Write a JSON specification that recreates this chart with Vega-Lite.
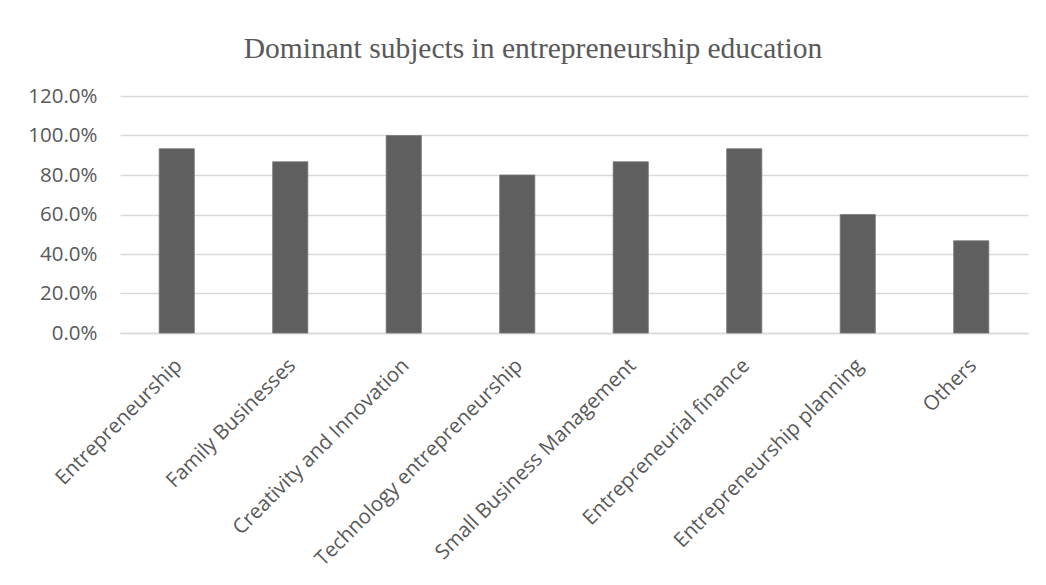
{
  "$schema": "https://vega.github.io/schema/vega-lite/v6.json",
  "width": 908,
  "height": 237,
  "autosize": {"type": "none"},
  "padding": {"left": 120, "top": 96, "right": 18, "bottom": 252},
  "background": "white",
  "title": {
    "text": "Dominant subjects in entrepreneurship education",
    "font": "Liberation Serif",
    "fontSize": 29.5,
    "fontWeight": "normal",
    "color": "#595959",
    "anchor": "middle",
    "frame": "group",
    "dx": -41,
    "offset": 22
  },
  "data": {
    "values": [
      {"subject": "Entrepreneurship", "share": 0.933},
      {"subject": "Family Businesses", "share": 0.867},
      {"subject": "Creativity and Innovation", "share": 1.0},
      {"subject": "Technology entrepreneurship", "share": 0.8},
      {"subject": "Small Business Management", "share": 0.867},
      {"subject": "Entrepreneurial finance", "share": 0.933},
      {"subject": "Entrepreneurship planning", "share": 0.6},
      {"subject": "Others", "share": 0.467}
    ]
  },
  "mark": {"type": "bar", "color": "#5f5f5f", "stroke": "#7a7a7a", "strokeWidth": 0.8},
  "encoding": {
    "x": {
      "field": "subject",
      "type": "nominal",
      "sort": null,
      "title": null,
      "scale": {"paddingInner": 0.69, "paddingOuter": 0.345},
      "axis": {
        "labelAngle": -45,
        "labelFont": "Open Sans",
        "labelFontSize": 20.5,
        "labelColor": "#595959",
        "ticks": false,
        "domainColor": "#d9d9d9",
        "domainWidth": 1.5,
        "labelPadding": 22,
        "labelOffset": -5,
        "labelLimit": 400
      }
    },
    "y": {
      "field": "share",
      "type": "quantitative",
      "title": null,
      "scale": {"domain": [0, 1.2], "nice": false},
      "axis": {
        "values": [0, 0.2, 0.4, 0.6, 0.8, 1.0, 1.2],
        "format": ".1%",
        "labelFont": "Open Sans",
        "labelFontSize": 20.5,
        "labelColor": "#595959",
        "ticks": false,
        "domain": false,
        "gridColor": "#d9d9d9",
        "gridWidth": 1.5,
        "labelPadding": 23
      }
    }
  },
  "config": {"view": {"stroke": null}}
}
